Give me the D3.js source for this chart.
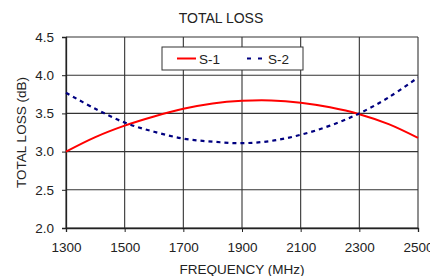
<!DOCTYPE html>
<html>
<head>
<meta charset="utf-8">
<script src="https://cdn.jsdelivr.net/npm/d3@7"></script>
<style>
  body { margin: 0; background: #fff; }
  text { font-family: "Liberation Sans", Arial, sans-serif; fill: #222; }
</style>
</head>
<body>
<div id="chart"></div>
<script>
// data
var freqs = [1300, 1400, 1500, 1600, 1700, 1800, 1900, 2000, 2100, 2200, 2300, 2400, 2500];
var s1 = [3.00, 3.19, 3.34, 3.46, 3.56, 3.63, 3.665, 3.67, 3.64, 3.58, 3.49, 3.36, 3.18];
var s2 = [3.77, 3.56, 3.38, 3.26, 3.17, 3.13, 3.11, 3.14, 3.22, 3.34, 3.50, 3.71, 3.97];
var xTicks = [1300, 1500, 1700, 1900, 2100, 2300, 2500];
var yTicks = [2.0, 2.5, 3.0, 3.5, 4.0, 4.5];
var seriesNames = ["S-1", "S-2"];

var margin = {top: 37, right: 12, bottom: 48, left: 66},
    width = 430 - margin.left - margin.right,
    height = 276 - margin.top - margin.bottom;

var svg = d3.select("#chart")
  .append("svg")
    .attr("width", 430)
    .attr("height", 276);

var g = svg.append("g")
  .attr("transform", "translate(" + margin.left + "," + margin.top + ")");

var x = d3.scaleLinear().domain([1300, 2500]).range([0, width]);
var y = d3.scaleLinear().domain([2.0, 4.5]).range([height, 0]);

// grid
g.selectAll(".vgrid")
  .data(xTicks)
  .enter().append("line")
    .attr("x1", function(d) { return x(d); })
    .attr("x2", function(d) { return x(d); })
    .attr("y1", 0)
    .attr("y2", height)
    .attr("stroke", "#333")
    .attr("stroke-width", 1.1);

g.selectAll(".hgrid")
  .data(yTicks)
  .enter().append("line")
    .attr("x1", 0)
    .attr("x2", width)
    .attr("y1", function(d) { return y(d); })
    .attr("y2", function(d) { return y(d); })
    .attr("stroke", "#333")
    .attr("stroke-width", 1.1);

// axes
var xAxis = g.append("g")
  .attr("transform", "translate(0," + height + ")")
  .call(d3.axisBottom(x).tickValues(xTicks).tickSize(4).tickPadding(10).tickFormat(d3.format("d")));

var yAxis = g.append("g")
  .call(d3.axisLeft(y).tickValues(yTicks).tickSize(4).tickPadding(8).tickFormat(d3.format(".1f")));

[xAxis, yAxis].forEach(function(a) {
  a.select(".domain").attr("stroke", "#222").attr("stroke-width", 1.3);
  a.selectAll(".tick line").attr("stroke", "#222");
  a.selectAll("text")
    .style("font-family", "Liberation Sans, Arial, sans-serif")
    .style("font-size", "13.5px")
    .attr("fill", "#222");
});

// lines
var line = d3.line()
  .x(function(d) { return x(d[0]); })
  .y(function(d) { return y(d[1]); })
  .curve(d3.curveCatmullRom);

g.append("path")
  .datum(d3.zip(freqs, s1))
  .attr("d", line)
  .attr("fill", "none")
  .attr("stroke", "#ff0000")
  .attr("stroke-width", 2);

g.append("path")
  .datum(d3.zip(freqs, s2))
  .attr("d", line)
  .attr("fill", "none")
  .attr("stroke", "#000080")
  .attr("stroke-width", 2.2)
  .attr("stroke-dasharray", "4,4");

// legend
var legend = svg.append("g").attr("transform", "translate(162,47)");
legend.append("rect")
  .attr("width", 141)
  .attr("height", 23)
  .attr("fill", "#fff")
  .attr("stroke", "#333")
  .attr("stroke-width", 1);

legend.append("line")
  .attr("x1", 15).attr("x2", 34)
  .attr("y1", 11.5).attr("y2", 11.5)
  .attr("stroke", "#ff0000").attr("stroke-width", 2);
legend.append("text")
  .attr("x", 37).attr("y", 16.5)
  .style("font-size", "13.5px")
  .text(seriesNames[0]);

legend.append("line")
  .attr("x1", 85).attr("x2", 100)
  .attr("y1", 11.5).attr("y2", 11.5)
  .attr("stroke", "#000080").attr("stroke-width", 2.2)
  .attr("stroke-dasharray", "4,7");
legend.append("text")
  .attr("x", 106).attr("y", 16.5)
  .style("font-size", "13.5px")
  .text(seriesNames[1]);

// titles
svg.append("text")
  .attr("x", 221)
  .attr("y", 23)
  .attr("text-anchor", "middle")
  .style("font-size", "14px")
  .text("TOTAL LOSS");

svg.append("text")
  .attr("x", margin.left + width / 2)
  .attr("y", 274)
  .attr("text-anchor", "middle")
  .style("font-size", "13.5px")
  .text("FREQUENCY (MHz)");

svg.append("text")
  .attr("transform", "translate(26," + (margin.top + height / 2) + ") rotate(-90)")
  .attr("text-anchor", "middle")
  .style("font-size", "13.5px")
  .text("TOTAL LOSS (dB)");
</script>
</body>
</html>
